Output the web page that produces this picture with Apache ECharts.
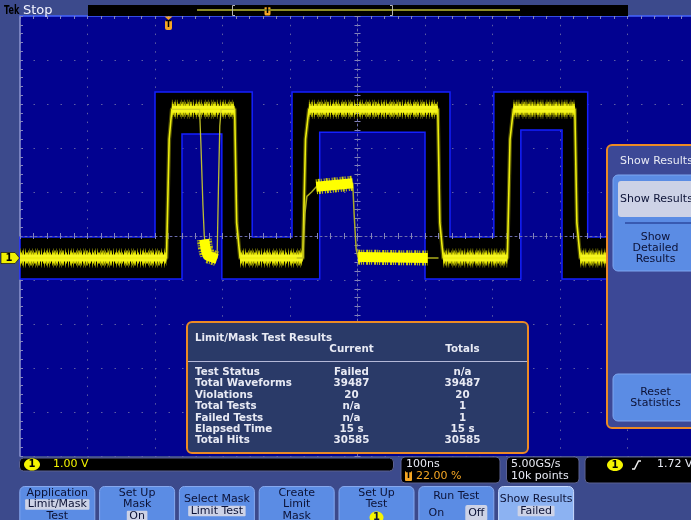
<!DOCTYPE html>
<html><head><meta charset="utf-8">
<script src="https://cdn.jsdelivr.net/npm/echarts@6/dist/echarts.min.js"></script>
<style>html,body{margin:0;padding:0;background:#3c4a8c;overflow:hidden}#c{width:691px;height:520px}</style>
</head><body><div id="c"></div>
<script>
// ---------------- data (time in ns, trigger at 0; voltage in V) ----------------
const timeRange = [-220, 780];          // 100 ns/div, trigger at 22 %
const voltRange = [-4.5, 5.5];          // 1.00 V/div
const mainTrace = [[-220,0],[-3,0],[1,2.7],[5,3.38],[98,3.38],[101,0.8],[106,0],[199,0],[203,2.7],[208,3.38],
  [399,3.38],[402,0.8],[407,0],[502,0],[506,2.7],[511,3.38],[602,3.38],[605,0.8],[610,0],[780,0]];
const glitchTrace = [[5,3.38],[46,3.38],[48,2.6],[51,1.2],[53,0.5],[56,0.15],[62,0.02],[72,0],[74,1.6],[76,3.0],[78,3.38],[98,3.38]];
const glitchLow = [[53,0.42],[55,0.2],[58,0.05],[72,-0.02]];
const runtTrace = [[190,0],[199,0],[202,1.0],[205,1.4],[212,1.5],[219,1.62],[273,1.7],[275,1.0],[278,0.2],[281,0],[400,0]];
const runtTop = [[219,1.62],[273,1.7]];
const runtLow = [[281,0.02],[384,0]];
const maskUpper = [[-220,0.48],[-20,0.48],[-20,3.77],[124,3.77],[124,0.48],[183,0.48],[183,3.77],[417,3.77],[417,0.48],
  [482,0.48],[482,3.77],[621,3.77],[621,0.48],[780,0.48]];
const maskLower = [[-220,-0.48],[20,-0.48],[20,2.82],[79,2.82],[79,-0.48],[224,-0.48],[224,2.86],[380,2.86],[380,-0.48],
  [522,-0.48],[522,2.91],[583,2.91],[583,-0.48],[780,-0.48]];
const resultTitle = 'Limit/Mask Test Results';
const resultHeaders = ['Current','Totals'];
const resultRows = ['Test Status','Total Waveforms','Violations','Total Tests','Failed Tests','Elapsed Time','Total Hits'];
const resultCurrent = ['Failed','39487','20','n/a','n/a','15 s','30585'];
const resultTotals = ['n/a','39487','20','1','1','15 s','30585'];
const menuLabels = [['Application','Limit/Mask','Test'],['Set Up','Mask','On'],['Select Mask','Limit Test'],['Create','Limit','Mask'],
  ['Set Up','Test','1'],['Run Test','On','Off'],['Show Results','Failed']];
const menuSelected = ['Limit/Mask','On','Limit Test',null,'1','Off','Failed'];
const sideTitle = 'Show Results';
const sideButtons = [['Show Results'],['Show','Detailed','Results'],['Reset','Statistics']];
const statusTexts = {ch:'1.00 V', scale:'100ns', trigPos:'22.00 %', rate:'5.00GS/s', points:'10k points', trigLevel:'1.72 V'};

// ---------------- styles ----------------
const C = {frame:'#3c4a8c', grat:'#020290', orange:'#ec8a24', panel:'#2a3a68', side:'#3c4896', btn:'#5b8ce4',
  btnHi:'#8cb2f2', hl:'#cdd2e6', dark:'#0c1236', yellow:'#f4f400', trig:'#f5a623', txt:'#e8eaf4'};
const FONT = '11px "DejaVu Sans", Verdana, sans-serif';
const BFONT = 'bold 10.3px "DejaVu Sans", Verdana, sans-serif';

const chart = echarts.init(document.getElementById('c'), null, {renderer:'canvas', width:691, height:520});

const tickStyle = {color:'#8484bc', width:1};
const divBase = {type:'value', min:-5, max:5, interval:1, silent:true, axisLabel:{show:false},
  splitLine:{show:false}, axisTick:{show:false}, minorTick:{show:false}, axisLine:{show:false}};
function centerAxis(pos, showLine, z) {
  return Object.assign({}, divBase, {position:pos, z:z,
    axisLine:{show:showLine, onZero:true, onZeroAxisIndex:0, lineStyle:{color:'#6c6cac', type:[2,3], width:1}},
    axisTick:{show:true, length:3, lineStyle:tickStyle},
    minorTick:{show:true, splitNumber:5, length:3, lineStyle:tickStyle}});
}
const xAxes = [
  centerAxis('bottom', true, 2),
  centerAxis('top', false, 2),
  Object.assign({}, divBase, {position:'top', z:0,
    axisLine:{show:true, onZero:false, lineStyle:{color:'#4464ff', width:1.5}},
    axisTick:{show:true, inside:true, length:3, lineStyle:tickStyle},
    minorTick:{show:true, splitNumber:5, length:3, lineStyle:tickStyle},
    splitLine:{show:true, lineStyle:{color:'#5e5ea4', type:[1.5,7.3], width:1}}}),
  {type:'value', min:timeRange[0], max:timeRange[1], show:false}
];
const yAxes = [
  centerAxis('left', true, 2),
  centerAxis('right', false, 2),
  Object.assign({}, divBase, {position:'left', z:0,
    axisLine:{show:true, onZero:false, lineStyle:{color:'#8c96d0', width:1.5}},
    axisTick:{show:true, inside:true, length:3, lineStyle:tickStyle},
    minorTick:{show:true, splitNumber:5, length:3, lineStyle:tickStyle},
    splitLine:{show:true, lineStyle:{color:'#5e5ea4', type:[1.5,12], width:1}}}),
  {type:'value', min:voltRange[0], max:voltRange[1], show:false}
];

const series = [];
function ln(data, width, color, type, z) {
  series.push({type:'line', xAxisIndex:3, yAxisIndex:3, data:data, symbol:'none', showSymbol:false, silent:true,
    animation:false, z:z, lineStyle:{width:width, color:color, type:type||'solid', cap:'butt', join:'round'}});
}
// mask polygon
series.push({type:'custom', xAxisIndex:3, yAxisIndex:3, z:1, silent:true, animation:false, data:[[0,0]],
  renderItem:function(params, api){
    const pts = maskUpper.map(p=>api.coord(p)).concat(maskLower.slice().reverse().map(p=>api.coord(p)));
    return {type:'polygon', shape:{points:pts}, style:{fill:'#000', stroke:'#1420ff', lineWidth:1.5}};
  }});
// main trace: edges + persistence band on plateaus
ln(mainTrace, 4, 'rgba(130,130,0,0.6)', 'solid', 3);
const plateaus = [];
for (let i = 0; i < mainTrace.length - 1; i++) if (mainTrace[i][1] === mainTrace[i+1][1]) plateaus.push([mainTrace[i], mainTrace[i+1]]);
const BAND = [
  {w:19, t:[1,2,1,1,1,3,1,2], c:'rgba(120,120,0,0.75)'},
  {w:15, t:[1,1,2,1,1,2], c:'rgba(190,190,0,0.8)'},
  {w:11, t:[2,1,1,1,3,1], c:'rgba(235,235,0,0.9)'},
  {w:7, t:'solid', c:'#f6f620'}
];
BAND.forEach(b => plateaus.forEach(seg => ln(seg, b.w, b.c, b.t, 4)));
ln(mainTrace, 1.6, '#eeee10', 'solid', 5);
// violations
ln(glitchTrace, 1.3, 'rgba(210,210,40,0.9)', 'solid', 6);
ln(glitchLow, 15, 'rgba(220,220,0,0.85)', [1,1,2,1], 6);
ln(glitchLow, 10, '#ffff00', 'solid', 6);
ln(runtTrace, 1.5, 'rgba(190,190,30,0.9)', 'solid', 6);
ln(runtTop, 15, 'rgba(230,230,0,0.9)', [1,1,2,1,1,2], 6);
ln(runtTop, 10, '#ffff00', 'solid', 6);
ln(runtLow, 15, 'rgba(230,230,0,0.9)', [2,1,1,1,1,2], 6);
ln(runtLow, 10, '#ffff00', 'solid', 6);

chart.setOption({
  animation:false, backgroundColor:C.frame,
  grid:{left:20, top:16, width:675, height:440, show:true, backgroundColor:C.grat, borderWidth:0, containLabel:false, outerBoundsMode:'none'},
  xAxis:xAxes, yAxis:yAxes, series:series
});

// ---------------- overlays ----------------
const G = [];
const mctx = document.createElement('canvas').getContext('2d');
function tw(s, font){ mctx.font = font || FONT; return mctx.measureText(s).width; }
function rect(x,y,w,h,fill,o){ o=o||{}; G.push({type:'rect', z:100, silent:true, shape:{x:x,y:y,width:w,height:h,r:o.r||0},
  style:{fill:fill, stroke:o.stroke||null, lineWidth:o.lw||0}}); }
function text(x,y,s,o){ o=o||{}; const al=o.align||'left';
  G.push({type:'text', z:102, silent:true, x:x, y:y, scaleX:o.sx||1,
    style:{text:s, fill:o.fill||C.txt, font:o.font||FONT, align:al, verticalAlign:'middle', textAlign:al, textVerticalAlign:'middle'}}); }
function line(x1,y1,x2,y2,stroke,lw){ G.push({type:'line', z:101, silent:true, shape:{x1:x1,y1:y1,x2:x2,y2:y2}, style:{stroke:stroke, lineWidth:lw||1}}); }
function poly(points, fill, stroke, lw){ G.push({type:fill?'polygon':'polyline', z:101, silent:true, shape:{points:points}, style:{fill:fill||null, stroke:stroke||null, lineWidth:lw||1}}); }
function ell(cx,cy,rx,ry,fill){ G.push({type:'ellipse', z:101, silent:true, shape:{cx:cx,cy:cy,rx:rx,ry:ry}, style:{fill:fill}}); }

// top bar
text(4, 10.5, 'Tek', {font:'bold 13px "DejaVu Sans", sans-serif', fill:'#000', sx:0.62});
text(23, 10.5, 'Stop', {font:'13px "DejaVu Sans", sans-serif', fill:'#f4f4ff'});
rect(88, 5, 540, 11, '#000');
line(197, 10, 520, 10, '#8c8c28', 2);
poly([[235,5.5],[232.5,5.5],[232.5,15.5],[235,15.5]], null, '#b4b4b4', 1);
poly([[390,5.5],[392.5,5.5],[392.5,15.5],[390,15.5]], null, '#b4b4b4', 1);
rect(264.5, 6.5, 6, 9, C.trig, {r:1.5});
text(267.5, 11.2, 'T', {font:'bold 8px "DejaVu Sans", sans-serif', fill:'#000', align:'center'});

// trigger position and channel ground markers (placed through the axes)
const tx = chart.convertToPixel({xAxisIndex:3}, 0);
const gy = chart.convertToPixel({yAxisIndex:3}, 0);
poly([[tx-4,16.5],[tx+4,16.5],[tx,20]], C.trig);
rect(tx-3.5, 20, 7, 10, C.trig, {r:2});
text(tx, 25.2, 'T', {font:'bold 8px "DejaVu Sans", sans-serif', fill:'#000', align:'center'});
poly([[1,gy-5.5],[15,gy-5.5],[19.5,gy],[15,gy+5.5],[1,gy+5.5]], '#f0f000', '#000', 0.6);
text(9, gy, '1', {font:'bold 10px "DejaVu Sans", sans-serif', fill:'#000', align:'center'});

// results panel
rect(187, 322, 341, 131, C.panel, {r:5, stroke:C.orange, lw:2});
text(195, 338, resultTitle, {font:BFONT});
text(351.5, 349, resultHeaders[0], {align:'center', font:BFONT});
text(462.5, 349, resultHeaders[1], {align:'center', font:BFONT});
line(188, 361.5, 527, 361.5, '#b4b8d8', 1);
resultRows.forEach((r,i) => {
  const y = 372.3 + i*11.4;
  text(195, y, r, {font:BFONT});
  text(351.5, y, resultCurrent[i], {align:'center', font:BFONT});
  text(462.5, y, resultTotals[i], {align:'center', font:BFONT});
});

// side menu
rect(607, 145, 95, 283, C.side, {r:5, stroke:C.orange, lw:2});
text(620, 161, sideTitle);
rect(613, 175, 90, 96, C.btn, {r:5, stroke:'#7ea6f0', lw:1});
rect(618, 181, 85, 36, C.hl, {r:3});
text(620, 199, sideButtons[0][0], {fill:C.dark});
line(625, 223, 700, 223, '#2c4aa0', 1.5);
sideButtons[1].forEach((s,i) => text(655.5, 237 + i*11.2, s, {fill:C.dark, align:'center'}));
rect(613, 374, 90, 47, C.btn, {r:5, stroke:'#7ea6f0', lw:1});
sideButtons[2].forEach((s,i) => text(655.5, 392 + i*11.5, s, {fill:C.dark, align:'center'}));

// status bar
const boxStroke = '#5a6090';
rect(19.5, 458, 374, 13, '#000', {r:4, stroke:boxStroke, lw:1});
ell(32, 464.5, 8, 6, C.yellow);
text(32, 464.8, '1', {font:'bold 10px "DejaVu Sans", sans-serif', fill:'#000', align:'center'});
text(53, 464.5, statusTexts.ch, {fill:C.yellow});
rect(401, 457, 99, 26, '#000', {r:4, stroke:boxStroke, lw:1});
text(406, 464, statusTexts.scale);
rect(405, 471, 7, 10, C.trig, {r:1});
text(408.5, 476.3, 'T', {font:'bold 8px "DejaVu Sans", sans-serif', fill:'#000', align:'center'});
text(416, 476.5, statusTexts.trigPos, {fill:C.trig});
rect(506.5, 457, 72.5, 26, '#000', {r:4, stroke:boxStroke, lw:1});
text(511, 464, statusTexts.rate);
text(511, 476, statusTexts.points);
rect(585, 457, 115, 26, '#000', {r:4, stroke:boxStroke, lw:1});
ell(615, 465, 8, 6, C.yellow);
text(615, 465.3, '1', {font:'bold 10px "DejaVu Sans", sans-serif', fill:'#000', align:'center'});
poly([[632,469],[634.5,469],[638.5,461],[641,461]], null, '#f0f0f0', 1.5);
text(657, 464.5, statusTexts.trigLevel);

// bottom menu buttons
menuLabels.forEach((lines, i) => {
  const x = 19.8 + i*79.8, w = 75, cx = x + w/2;
  const active = i === menuLabels.length - 1;
  G.push({type:'rect', z:100, silent:true, shape:{x:x, y:486.5, width:w, height:40, r:[5,5,0,0]},
    style:{fill:active?C.btnHi:C.btn, stroke:active?'#c8daff':'#86a8ee', lineWidth:1}});
  if (i === 5) {
    text(cx, 495.7, lines[0], {fill:C.dark, align:'center'});
    text(x + 17.5, 512.7, lines[1], {fill:C.dark, align:'center'});
    rect(x + 46.5, 505, 22, 16, C.hl, {r:2});
    text(x + 57.5, 512.7, lines[2], {fill:C.dark, align:'center'});
    return;
  }
  const ys = lines.length === 3 ? [493, 504.3, 515.7] : [499, 510.7];
  lines.forEach((s, j) => {
    const y = ys[j];
    if (menuSelected[i] === s && j > 0) {
      if (s === '1') { ell(cx, y + 1.8, 7, 6, C.yellow); }
      else { const ww = tw(s) + 5; rect(cx - ww/2, y - 5, ww, 10.5, C.hl, {r:1}); }
    }
    text(cx, y + (s === '1' ? 1.8 : 0), s, {fill:C.dark, align:'center', font: s === '1' ? 'bold 10px "DejaVu Sans", sans-serif' : FONT});
  });
});

chart.setOption({graphic:{elements:G}});
</script>
</body></html>
